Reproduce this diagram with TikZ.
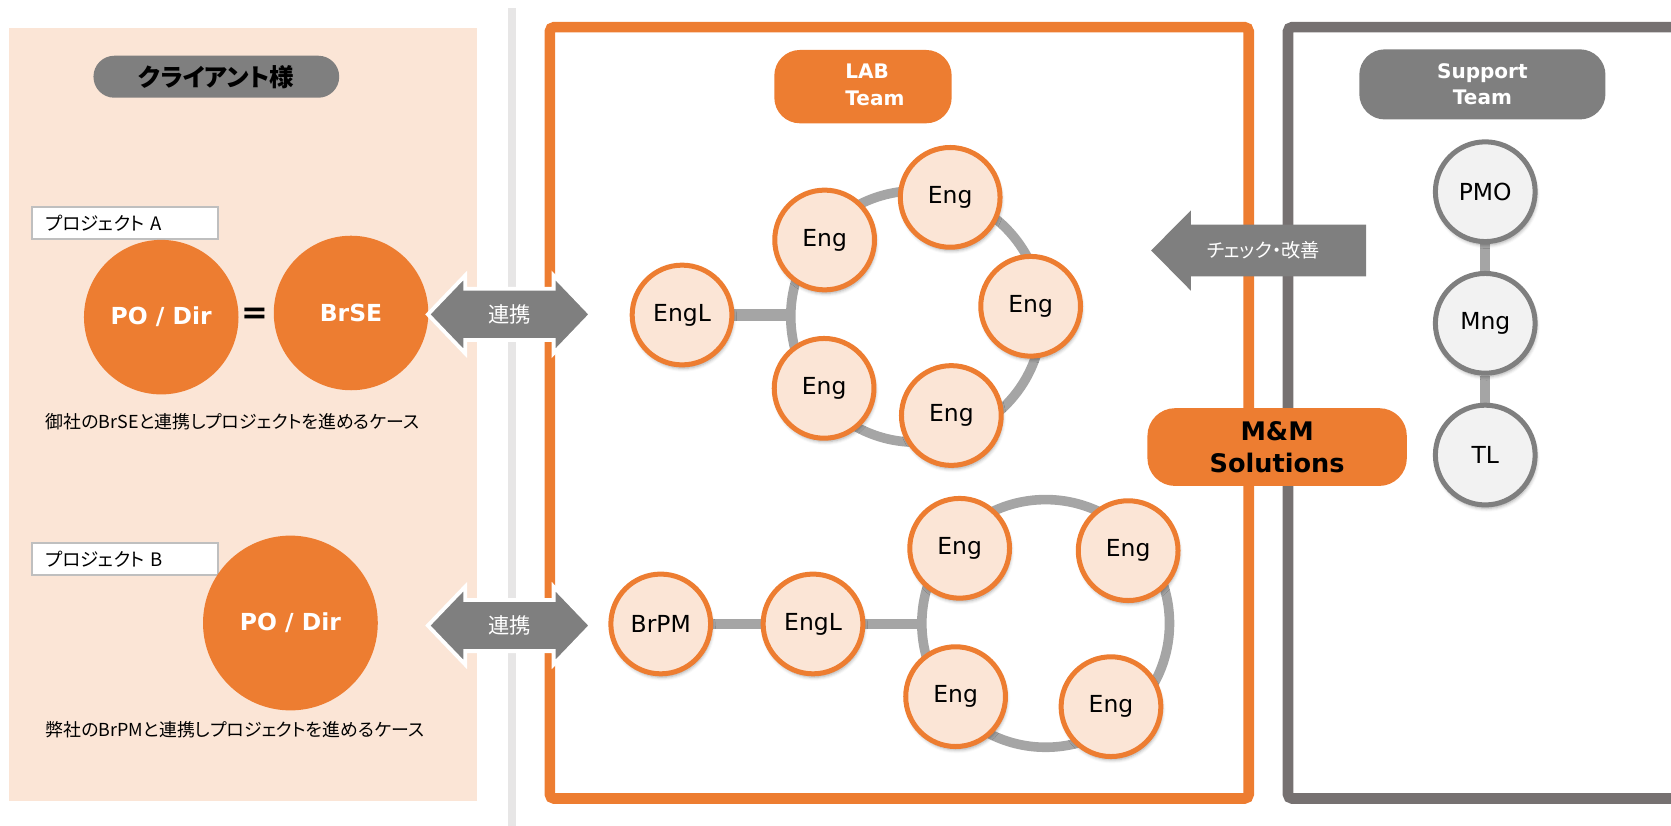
\documentclass[tikz,border=0pt]{standalone}
\usepackage{fontspec}
\setmainfont{DejaVu Sans}
\newfontfamily\jp[RawFeature=+palt]{Noto Sans CJK JP}
\usetikzlibrary{shadows.blur,backgrounds}
\definecolor{orng}{HTML}{ED7D31}
\definecolor{peach}{HTML}{FBE5D6}
\definecolor{pillgray}{HTML}{7F7F7F}
\definecolor{framegray}{HTML}{767171}
\definecolor{linkgray}{HTML}{A5A5A5}
\definecolor{sepgray}{HTML}{E7E6E6}
\definecolor{nodegray}{HTML}{F2F2F2}
\definecolor{boxgray}{HTML}{BFBFBF}
\begin{document}
\begin{tikzpicture}[x=0.5pt,y=-0.5pt,
  member/.style={circle, minimum size=46.8pt, inner sep=0pt, line width=2.35pt,
    font=\fontsize{11}{13}\selectfont,
    blur shadow={shadow xshift=0.6pt, shadow yshift=-1.6pt, shadow blur radius=1.6pt, shadow opacity=35}},
  engnode/.style={member, fill=peach, draw=orng},
  supnode/.style={member, fill=nodegray, draw=pillgray},
  bigcircle/.style={circle, fill=orng, inner sep=0pt, text=white, font=\bfseries\fontsize{11}{13}\selectfont},
  ring/.style={draw=linkgray, line width=4.5pt},
  bar/.style={draw=linkgray, line width=#1},
  bar/.default=4.7pt,
  pill/.style={inner sep=0pt, align=center},
  projbox/.style={draw=boxgray, line width=0.9pt, fill=white, minimum height=15.2pt, text width=74.6pt,
    inner xsep=6.5pt, inner ysep=0pt, align=left, font=\jp\fontsize{8.7}{11}\selectfont},
  caption/.style={anchor=west, inner sep=0pt, font=\jp\fontsize{8.4}{11}\selectfont},
  linkarrow/.style={fill=pillgray, draw=white, line width=1.8pt, line join=miter},
  arrowtext/.style={text=white, inner sep=0pt, font=\jp\fontsize{10}{12}\selectfont}
]
\useasboundingbox (0,0) rectangle (1568,775);
\clip (0,0) rectangle (1568,775);

% panels and frames
\fill[peach] (8.4,26.3) rectangle (447.7,751.3);
\fill[sepgray] (476.4,7.5) rectangle (484,775);
\draw[orng, line width=5pt, rounded corners=2pt] (516,25.5) rectangle (1171.7,749.3);
\draw[framegray, line width=5pt, rounded corners=2pt] (1208.6,25.5) rectangle (1640,749.3);

% client side
\node[pill, fill=pillgray, minimum width=115.3pt, minimum height=19.7pt, rounded corners=9.8pt,
  font=\jp\bfseries\fontsize{11.5}{13}\selectfont] (client) at (203,72) {クライアント様};
\node[projbox] (projA) at (117.2,209.4) {プロジェクト A};
\node[projbox] (projB) at (117.2,524.3) {プロジェクト B};
\node[bigcircle, minimum size=72.5pt] (poA) at (151.3,297.6) {PO / Dir};
\node[font=\bfseries\fontsize{15}{15}\selectfont, inner sep=0pt] (eq) at (239.6,296.5) {=};
\node[bigcircle, minimum size=72.5pt] (brse) at (329.4,293.7) {BrSE};
\node[bigcircle, minimum size=82pt] (poB) at (272.5,584.6) {PO / Dir};
\node[caption] (capA) at (42.6,395.7) {御社のBrSEと連携しプロジェクトを進めるケース};
\node[caption] (capB) at (42.6,685) {弊社のBrPMと連携しプロジェクトを進めるケース};

% LAB team, top cluster
\node[engnode] (englA) at (640,295.6) {EngL};
\node[engnode] (ea1) at (773.8,225.2) {Eng};
\node[engnode] (ea2) at (891.6,185.2) {Eng};
\node[engnode] (ea3) at (967.1,287.4) {Eng};
\node[engnode] (ea4) at (892.7,389.9) {Eng};
\node[engnode] (ea5) at (773.3,364.4) {Eng};
\coordinate (ringAc) at (860,297);
\coordinate (ringAl) at (742.3,295.6);

% bottom cluster
\node[engnode] (brpm) at (620,585.5) {BrPM};
\node[engnode] (englB) at (762.9,585.5) {EngL};
\node[engnode] (eb1) at (900.5,514.5) {Eng};
\node[engnode] (eb2) at (1058.6,516.7) {Eng};
\node[engnode] (eb3) at (896.7,653.7) {Eng};
\node[engnode] (eb4) at (1042.5,663.1) {Eng};
\coordinate (ringBc) at (981.2,585);
\coordinate (ringBl) at (865,585.5);

% support team
\node[supnode] (pmo) at (1393.7,179.9) {PMO};
\node[supnode] (mng) at (1393.7,303.4) {Mng};
\node[supnode] (tl) at (1393.7,427) {TL};

\begin{scope}[on background layer]
  \draw[ring] (ringAc) circle[radius=59pt];
  \draw[bar=5.5pt] (englA) -- (ringAl);
  \draw[ring] (ringBc) circle[radius=58.1pt];
  \draw[bar] (brpm) -- (englB);
  \draw[bar] (englB) -- (ringBl);
  \draw[bar=4.5pt] (pmo) -- (mng);
  \draw[bar=4.5pt] (mng) -- (tl);
\end{scope}

% pills
\node[pill, fill=orng, minimum width=83.2pt, minimum height=34.4pt, rounded corners=12pt] (lab) at (809.8,81.3) {};
\node[inner sep=0pt, align=left, text=white, font=\bfseries\fontsize{9.4}{12.8}\selectfont] (labtext) at (821,79.3) {LAB\\Team};
\node[pill, fill=pillgray, minimum width=115.5pt, minimum height=32.9pt, rounded corners=12pt,
  text=white, font=\bfseries\fontsize{9.4}{12.2}\selectfont] (support) at (1391,79.2) {Support\\Team};

% arrows
\coordinate (linkA) at (478,295);
\coordinate (linkB) at (478,587);
\path[linkarrow] ([xshift=-38.25pt]linkA) -- ++(35,-36.5) -- ++(0,12.5) -- ++(83,0) -- ++(0,-12.5)
  -- ++(35,36.5) -- ++(-35,36.5) -- ++(0,-12.5) -- ++(-83,0) -- ++(0,12.5) -- cycle;
\node[arrowtext] (linkAt) at (linkA) {連携};
\path[linkarrow] ([xshift=-38.25pt]linkB) -- ++(35,-36.5) -- ++(0,12.5) -- ++(83,0) -- ++(0,-12.5)
  -- ++(35,36.5) -- ++(-35,36.5) -- ++(0,-12.5) -- ++(-83,0) -- ++(0,12.5) -- cycle;
\node[arrowtext] (linkBt) at (linkB) {連携};

\coordinate (chktip) at (1080.2,235);
\path[fill=pillgray] (chktip) -- ++(37.2,-37.5) -- ++(0,13.3) -- ++(164.6,0) -- ++(0,48.6)
  -- ++(-164.6,0) -- ++(0,13.3) -- cycle;
\node[arrowtext, font=\jp\fontsize{9}{11}\selectfont] (chk) at (1185.4,235) {チェック・改善};

\node[pill, fill=orng, minimum width=121.7pt, minimum height=36.5pt, rounded corners=13pt,
  font=\bfseries\fontsize{12}{15.3}\selectfont] (mm) at (1198.4,419.5) {M\&M\\Solutions};
\end{tikzpicture}
\end{document}
